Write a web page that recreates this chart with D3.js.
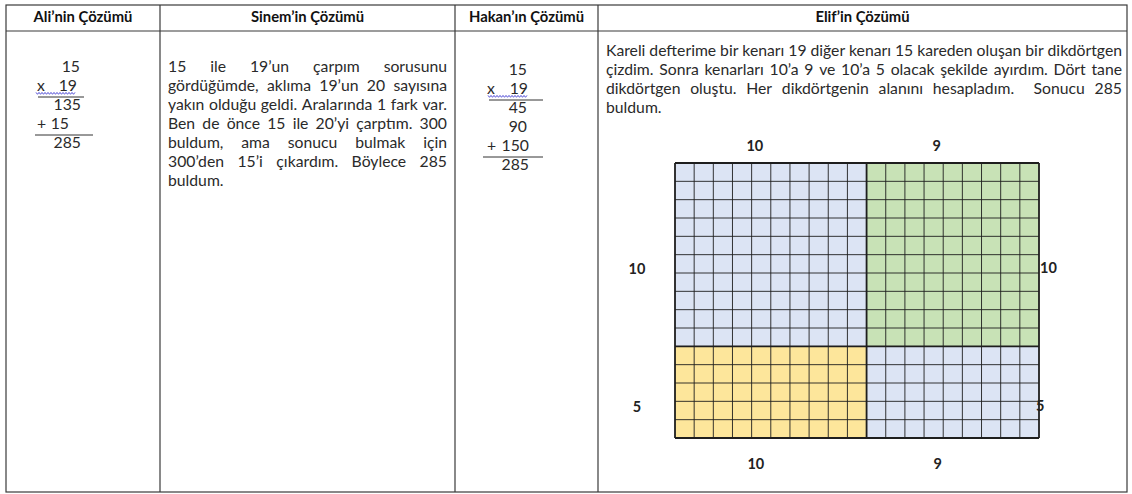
<!DOCTYPE html>
<html>
<head>
<meta charset="utf-8">
<script src="https://cdn.jsdelivr.net/npm/d3@7"></script>
<style>
  body { margin: 0; background: #fff; }
  svg text { font-family: Lato, "Open Sans", sans-serif; fill: #2a2a2a; }
  .head { font-weight: bold; font-size: 14.8px; fill: #111; }
  .body { font-size: 14px; }
  .lbl { font-weight: bold; font-size: 14.5px; fill: #222; }
</style>
</head>
<body>
<div id="chart"></div>
<script>

// --- data ---
const headers = ["Ali’nin Çözümü", "Sinem’in Çözümü", "Hakan’ın Çözümü", "Elif’in Çözümü"];

const aliOps  = ["", "x", "", "+", ""];
const aliNums = ["15", "19", "135", "15", "285"];

const hakanOps  = ["", "x", "", "", "+", ""];
const hakanNums = ["15", "19", "45", "90", "150", "285"];

const sinemLines = [
	"15 ile 19’un çarpım sorusunu",
	"gördüğümde, aklıma 19’un 20 sayısına",
	"yakın olduğu geldi. Aralarında 1 fark var.",
	"Ben de önce 15 ile 20’yi çarptım. 300",
	"buldum, ama sonucu bulmak için",
	"300’den 15’i çıkardım. Böylece 285",
	"buldum."
];

const elifLines = [
	"Kareli defterime bir kenarı 19 diğer kenarı 15 kareden oluşan bir dikdörtgen",
	"çizdim. Sonra kenarları 10’a 9 ve 10’a 5 olacak şekilde ayırdım. Dört tane",
	"dikdörtgen oluştu. Her dikdörtgenin alanını hesapladım.  Sonucu 285",
	"buldum."
];

const gridCols = [10, 9];
const gridRows = [10, 5];

// --- layout / style ---
const width = 1132,
	height = 494;
const colEdges = [6, 160, 455, 598, 1127];
const tableTop = 5, headBottom = 31, tableBottom = 492;
const blockFill = [["#dce4f4", "#c8e2b6"], ["#fde69b", "#dce4f4"]];

let svg = d3.select("#chart")
	.append("svg")
		.attr("width", width)
		.attr("height", height);

// table frame
let frame = svg.append("g")
	.attr("stroke", "#3a3a3a")
	.attr("stroke-width", 1.2)
	.attr("fill", "none");

frame.append("rect")
	.attr("x", colEdges[0]).attr("y", tableTop)
	.attr("width", colEdges[4] - colEdges[0])
	.attr("height", tableBottom - tableTop);

frame.append("line")
	.attr("x1", colEdges[0]).attr("x2", colEdges[4])
	.attr("y1", headBottom).attr("y2", headBottom);

frame.selectAll(".sep")
	.data(colEdges.slice(1, 4))
	.enter()
	.append("line")
	.attr("x1", d => d).attr("x2", d => d)
	.attr("y1", tableTop).attr("y2", tableBottom);

svg.selectAll(".head")
	.data(headers)
	.enter()
	.append("text")
	.attr("class", "head")
	.attr("x", (d, i) => (colEdges[i] + colEdges[i + 1]) / 2)
	.attr("y", 18)
	.attr("text-anchor", "middle")
	.attr("dominant-baseline", "middle")
	.text(d => d);

function measure(str, cls)
{
	let t = svg.append("text").attr("class", cls).text(str);
	let w = t.node().getComputedTextLength();
	t.remove();
	return w;
}

// body size: the first line of Elif's text sits with plain spaces across its cell
let bodySize = 14 * (1122 - 606) / measure(elifLines[0], "body");
svg.append("style").text(".body { font-size: " + bodySize.toFixed(2) + "px; }");

// column sums (Ali, Hakan)
function drawSum(ops, nums, opX, numEnd, y0, rules, wave)
{
	let g = svg.append("g");
	let rowY = d3.scaleLinear().domain([0, 1]).range([y0, y0 + 19]);

	g.selectAll(".op")
		.data(ops)
		.enter()
		.append("text")
		.attr("class", "body")
		.attr("x", opX)
		.attr("y", (d, i) => rowY(i))
		.attr("dominant-baseline", "middle")
		.text(d => d);

	g.selectAll(".num")
		.data(nums)
		.enter()
		.append("text")
		.attr("class", "body")
		.attr("x", (d, i) => numEnd[i])
		.attr("y", (d, i) => rowY(i))
		.attr("text-anchor", "end")
		.attr("dominant-baseline", "middle")
		.text(d => d);

	g.selectAll(".rule")
		.data(rules)
		.enter()
		.append("line")
		.attr("x1", d => d.x1).attr("x2", d => d.x2)
		.attr("y1", d => rowY(d.after + 0.5) + 0.5)
		.attr("y2", d => rowY(d.after + 0.5) + 0.5)
		.attr("stroke", "#333")
		.attr("stroke-width", 1);

	// spell-check squiggle under the "x 19" row
	let wy = rowY(1) + 6;
	let pts = d3.range(wave[0], wave[1] + 0.1, 1.5).map((x, k) => [x, wy + (k % 2 ? 1.3 : -0.6)]);
	g.append("path")
		.attr("d", d3.line()(pts))
		.attr("fill", "none")
		.attr("stroke", "#5a56d8")
		.attr("stroke-width", 1);
}

drawSum(aliOps, aliNums, 37, [80, 77, 81, 69, 81], 68,
	[{after: 1, x1: 38, x2: 84}, {after: 3, x1: 35, x2: 93}], [36, 75]);

drawSum(hakanOps, hakanNums, 487, [527, 528, 527, 527, 529, 529], 71,
	[{after: 1, x1: 489, x2: 543}, {after: 4, x1: 483, x2: 543}], [488, 528]);

// justified paragraphs
function paragraph(lines, x0, x1, y0, dy)
{
	let g = svg.append("g");
	let space = measure("a a", "body") - measure("aa", "body");

	lines.forEach(function(line, i)
	{
		let words = line.split(" ");
		let widths = words.map(w => measure(w, "body"));
		let total = d3.sum(widths);
		let last = i == lines.length - 1;
		let gap = (last || words.length < 2) ? space : (x1 - x0 - total) / (words.length - 1);

		let x = x0;
		words.forEach(function(w, k)
		{
			if (w.length)
				g.append("text")
					.attr("class", "body")
					.attr("x", x)
					.attr("y", y0 + i * dy)
					.attr("dominant-baseline", "middle")
					.text(w);
			x += widths[k] + gap;
		});
	});
}

paragraph(sinemLines, 168, 447, 68, 19);
paragraph(elifLines, 606, 1122, 52, 19);

// Elif's squared rectangle
let nx = d3.sum(gridCols), ny = d3.sum(gridRows);
let x = d3.scaleLinear().domain([0, nx]).range([675, 1039]);
let y = d3.scaleLinear().domain([0, ny]).range([163, 438]);

let colStart = [0, gridCols[0]], rowStart = [0, gridRows[0]];

let blocks = [];
gridRows.forEach((r, j) => gridCols.forEach((c, i) =>
	blocks.push({c0: colStart[i], c: c, r0: rowStart[j], r: r, fill: blockFill[j][i]})));

let grid = svg.append("g");

grid.selectAll(".block")
	.data(blocks)
	.enter()
	.append("rect")
	.attr("x", d => x(d.c0))
	.attr("y", d => y(d.r0))
	.attr("width", d => x(d.c0 + d.c) - x(d.c0))
	.attr("height", d => y(d.r0 + d.r) - y(d.r0))
	.attr("fill", d => d.fill);

let thickX = [0, gridCols[0], nx], thickY = [0, gridRows[0], ny];

grid.selectAll(".vl")
	.data(d3.range(nx + 1))
	.enter()
	.append("line")
	.attr("x1", d => x(d)).attr("x2", d => x(d))
	.attr("y1", y(0)).attr("y2", y(ny))
	.attr("stroke", "#1e1e1e")
	.attr("stroke-width", d => thickX.includes(d) ? 1.8 : 0.9);

grid.selectAll(".hl")
	.data(d3.range(ny + 1))
	.enter()
	.append("line")
	.attr("x1", x(0)).attr("x2", x(nx))
	.attr("y1", d => y(d)).attr("y2", d => y(d))
	.attr("stroke", "#1e1e1e")
	.attr("stroke-width", d => thickY.includes(d) ? 1.8 : 0.9);

// side labels
let labels = [];
gridCols.forEach((c, i) => {
	labels.push({t: c, x: x(colStart[i] + c / 2) - 16, y: y(0) - 16, a: "middle"});
	labels.push({t: c, x: x(colStart[i] + c / 2) - 15, y: y(ny) + 27, a: "middle"});
});
gridRows.forEach((r, j) => {
	labels.push({t: r, x: 637, y: y(rowStart[j] + r / 2) + 16, a: "middle"});
	labels.push({t: r, x: x(nx) + (r < 10 ? -3 : 1), y: y(rowStart[j] + r / 2) + 15, a: "start"});
});

grid.selectAll(".lbl")
	.data(labels)
	.enter()
	.append("text")
	.attr("class", "lbl")
	.attr("x", d => d.x)
	.attr("y", d => d.y)
	.attr("text-anchor", d => d.a)
	.attr("dominant-baseline", "middle")
	.text(d => d.t);

</script>
</body>
</html>
